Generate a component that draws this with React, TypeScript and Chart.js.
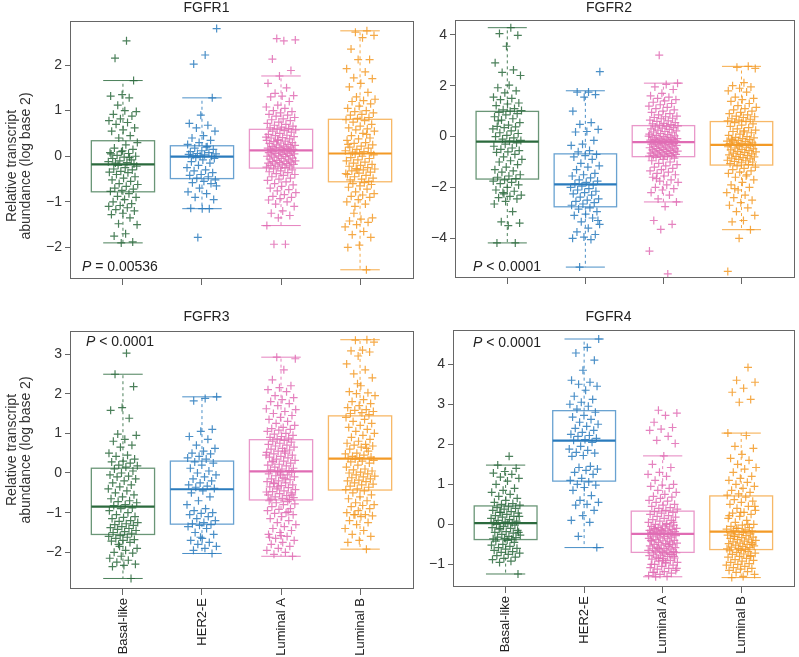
import React, { useEffect, useRef } from "react";
import { Chart, registerables } from "chart.js";

Chart.register(...registerables);
Chart.defaults.font.family = '"Liberation Sans", Arial, Helvetica, sans-serif';

// ---------- data ----------
const GROUPS = ["Basal-like", "HER2-E", "Luminal A", "Luminal B"];
const CAT_POS = [1, 2, 3, 4];
const COLORS = ["#2b6a3d", "#2a7bbd", "#e06cb4", "#f39a26"];
const Y_TITLE = ["Relative transcript", "abundance (log base 2)"];

// FGFR1
const FGFR1_BASAL = [2.53, 2.15, 1.66, 1.35, 1.32, 1.28, 1.12, 0.98, 1.0, 0.92, 0.88, 0.82, 0.78, 0.74, 0.7, 0.62, 0.58, 0.55, 0.45, 0.4,
  0.3, 0.25, 0.18, 0.15, 0.1, 0.08, 0.06, 0.02, 0.0, -0.02, -0.05, -0.08, -0.1, -0.12, -0.14, -0.15, -0.17, 0.12, 0.05, -0.03,
  -0.2, -0.22, -0.25, -0.28, -0.3, -0.33, -0.35, -0.36, -0.4, -0.45, -0.48, -0.52, -0.55, -0.6, -0.62, -0.66, -0.7, -0.72, -0.75, -0.77,
  -0.82, -0.88, -0.9, -0.95, -1.0, -1.04, -1.08, -1.1, -1.13, -1.17, -1.2, -1.25, -1.28, -1.35, -1.48, -1.5, -1.7, -1.75, -1.88, -1.9];
const FGFR1_HER2E = [2.8, 2.22, 2.02, 1.28, 0.9, 0.72, 0.68, 0.62, 0.55, 0.45, 0.4, 0.35, 0.3, 0.26,
  0.2, 0.18, 0.15, 0.12, 0.1, 0.08, 0.06, 0.05, 0.03, 0.02, 0.0, 0.01, 0.04, 0.21,
  -0.03, -0.05, -0.08, -0.12, -0.15, -0.2, -0.25, -0.3, -0.32, -0.36, -0.4, -0.42, -0.45, -0.48,
  -0.52, -0.55, -0.58, -0.6, -0.7, -0.78, -0.82, -0.9, -0.95, -1.15, -1.14, -1.15, -1.78, -0.65];
const FGFR1_LUMA = [2.58, 2.55, 2.53, 2.13, 1.88, 1.76, 1.6, 1.5, 1.38, 1.33, 1.32, 1.3, 1.2, 1.12, 1.08, 1.05, 1.0, 0.98, 0.95, 0.92, 0.9, 0.88, 0.85, 0.82, 0.8, 0.78, 0.75, 0.72, 0.7, 0.68, 0.66, 0.64, 0.62, 0.61, 0.6,
  0.58, 0.56, 0.55, 0.53, 0.5, 0.48, 0.46, 0.45, 0.43, 0.41, 0.4, 0.38, 0.36, 0.35, 0.33, 0.32, 0.3, 0.29, 0.28, 0.26, 0.25, 0.24, 0.22, 0.21, 0.2, 0.19, 0.18, 0.17, 0.16, 0.15, 0.15, 0.14, 0.14, 0.35, 0.42,
  0.12, 0.11, 0.1, 0.09, 0.08, 0.07, 0.06, 0.05, 0.04, 0.03, 0.02, 0.01, 0.0, -0.01, -0.02, -0.04, -0.05, -0.06, -0.08, -0.09, -0.1, -0.11, -0.12, -0.13, -0.14, -0.15, -0.16, -0.17, -0.18, -0.19, -0.2, -0.21, -0.22, -0.24, -0.25,
  -0.28, -0.3, -0.32, -0.34, -0.36, -0.38, -0.4, -0.42, -0.45, -0.48, -0.5, -0.53, -0.56, -0.6, -0.63, -0.66, -0.7, -0.73, -0.76, -0.8, -0.84, -0.88, -0.9, -0.93, -0.96, -1.0, -1.05, -1.1, -1.2, -1.25, -1.3, -1.35, -1.52, -1.93, -1.93];
const FGFR1_LUMB = [2.75, 2.72, 2.65, 2.6, 2.35, 2.12, 2.12, 1.92, 1.85, 1.72, 1.7, 1.6, 1.52, 1.4, 1.3, 1.25, 1.22, 1.2, 1.15, 1.1, 1.05, 1.0, 0.98, 0.95, 0.92, 0.9, 0.85, 0.83,
  0.8, 0.78, 0.75, 0.7, 0.66, 0.62, 0.6, 0.58, 0.55, 0.5, 0.45, 0.4, 0.38, 0.35, 0.3, 0.28, 0.25, 0.22, 0.2, 0.18, 0.15, 0.12, 0.1, 0.09, 0.08, 0.07, 0.26, 0.48,
  0.05, 0.03, 0.0, -0.03, -0.05, -0.08, -0.1, -0.13, -0.15, -0.18, -0.2, -0.22, -0.25, -0.27, -0.28, -0.3, -0.32, -0.35, -0.37, -0.4, -0.42, -0.45, -0.48, -0.5, -0.52, -0.55, -0.3, -0.38,
  -0.58, -0.6, -0.62, -0.65, -0.68, -0.72, -0.78, -0.82, -0.85, -0.88, -0.9, -0.95, -1.0, -1.05, -1.25, -1.35, -1.38, -1.42, -1.45, -1.5, -1.55, -1.65, -1.72, -1.78, -1.95, -2.0, -2.49, -1.1];
// [whisker low, Q1, median, Q3, whisker high]
const FGFR1_BOX = [[-1.9, -0.78, -0.18, 0.34, 1.66], [-1.15, -0.49, -0.01, 0.23, 1.28], [-1.52, -0.26, 0.13, 0.59, 1.76], [-2.49, -0.56, 0.06, 0.81, 2.75]];
const FGFR1_RANGE = [-2.67, 2.97];
const FGFR1_TICKS = [-2, -1, 0, 1, 2];

// FGFR2
const FGFR2_BASAL = [4.28, 4.05, 3.98, 3.55, 2.9, 2.62, 2.52, 2.4, 2.02, 1.92, 1.8, 1.72, 1.55, 1.5, 1.45, 1.32, 1.28, 1.22, 1.1, 1.05, 1.02, 1.0,
  0.95, 0.9, 0.85, 0.78, 0.7, 0.65, 0.55, 0.45, 0.4, 0.38, 0.35, 0.3, 0.22, 0.15, 0.12, 0.05, 0.0, -0.05, -0.1, -0.15, -0.18, 0.62,
  -0.25, -0.3, -0.38, -0.45, -0.5, -0.55, -0.6, -0.62, -0.7, -0.8, -0.9, -0.95, -1.0, -1.1, -1.2, -1.3, -1.35, -1.4, -1.5, -1.55, -1.6, -1.65,
  -1.7, -1.75, -1.8, -1.85, -1.9, -2.0, -2.1, -2.15, -2.2, -2.3, -2.35, -2.4, -2.45, -2.55, -2.65, -2.95, -3.35, -3.4, -3.5, -4.18, -4.18, -2.25];
const FGFR2_HER2E = [2.55, 1.75, 1.75, 1.65, 1.55, 1.0, 0.55, 0.48, 0.28, 0.2, 0.18, -0.15, -0.3, -0.35, -0.55, -0.6,
  -0.7, -0.75, -0.8, -0.9, -1.05, -1.15, -1.2, -1.3, -1.45, -1.5, -1.55, -1.62, -1.7, -1.75, -1.8, -1.85,
  -1.9, -1.95, -2.0, -2.05, -2.1, -2.15, -2.2, -2.25, -2.3, -2.38, -2.45, -2.5, -2.55, -2.6, -2.65, -2.7,
  -2.8, -2.85, -2.95, -3.05, -3.1, -3.2, -3.35, -3.45, -3.6, -3.75, -3.85, -3.95, -4.0, -4.05, -5.13, -3.3];
const FGFR2_LUMA = [3.2, 2.1, 2.05, 1.95, 1.85, 1.7, 1.6, 1.55, 1.5, 1.45, 1.4, 1.35, 1.3, 1.25, 1.2, 1.15, 1.1, 1.05, 1.0, 0.95, 0.9, 0.85, 0.8, 0.78, 0.75, 0.72, 0.7, 0.65, 0.62, 0.6, 0.55, 0.52, 0.5, 0.47, 0.45,
  0.42, 0.4, 0.38, 0.35, 0.33, 0.3, 0.28, 0.25, 0.22, 0.2, 0.18, 0.15, 0.12, 0.1, 0.08, 0.05, 0.03, 0.0, -0.02, -0.04, -0.06, -0.08, -0.1, -0.11, -0.12, -0.13, -0.14, -0.15, -0.16, -0.17, -0.18, -0.19, -0.2, -0.21, 0.02,
  -0.23, -0.25, -0.27, -0.28, -0.3, -0.32, -0.33, -0.35, -0.37, -0.38, -0.4, -0.42, -0.44, -0.45, -0.47, -0.48, -0.5, -0.52, -0.54, -0.55, -0.57, -0.58, -0.6, -0.62, -0.64, -0.65, -0.67, -0.69, -0.7, -0.72, -0.74, -0.75, -0.76, -0.77, -0.78,
  -0.82, -0.85, -0.9, -0.95, -1.0, -1.05, -1.1, -1.15, -1.2, -1.25, -1.3, -1.35, -1.4, -1.45, -1.5, -1.55, -1.6, -1.7, -1.75, -1.8, -1.9, -2.0, -2.05, -2.1, -2.2, -2.3, -2.45, -2.57, -2.75, -3.3, -3.45, -3.65, -4.5, -5.4, -1.65];
const FGFR2_LUMB = [2.76, 2.72, 2.68, 2.12, 2.0, 1.95, 1.9, 1.8, 1.75, 1.55, 1.5, 1.45, 1.38, 1.3, 1.22, 1.15, 1.1, 1.05, 1.0, 0.95, 0.9, 0.85, 0.8, 0.78, 0.75, 0.7, 0.68, 0.65, 0.62, 0.6,
  0.55, 0.5, 0.45, 0.4, 0.35, 0.3, 0.25, 0.22, 0.2, 0.15, 0.1, 0.05, 0.0, -0.03, -0.05, -0.08, -0.1, -0.12, -0.15, -0.18, -0.2, -0.22, -0.25, -0.27, -0.28, -0.3, -0.31, -0.32, 0.18, -0.14,
  -0.35, -0.38, -0.4, -0.42, -0.45, -0.48, -0.5, -0.52, -0.55, -0.58, -0.6, -0.62, -0.65, -0.68, -0.7, -0.72, -0.75, -0.78, -0.8, -0.83, -0.85, -0.88, -0.9, -0.93, -0.95, -0.98, -1.0, -1.03, -1.06, -1.1,
  -1.15, -1.2, -1.25, -1.3, -1.35, -1.4, -1.45, -1.5, -1.6, -1.7, -1.8, -1.9, -2.0, -2.1, -2.2, -2.3, -2.4, -2.5, -2.6, -2.7, -2.8, -2.95, -3.1, -3.3, -3.35, -3.66, -4.0, -5.3, -1.55, -2.05];
const FGFR2_BOX = [[-4.18, -1.67, -0.2, 0.99, 4.28], [-5.13, -2.76, -1.88, -0.68, 1.8], [-2.57, -0.79, -0.22, 0.43, 2.1], [-3.66, -1.12, -0.33, 0.59, 2.76]];
const FGFR2_RANGE = [-5.52, 4.59];
const FGFR2_TICKS = [-4, -2, 0, 2, 4];

// FGFR3
const FGFR3_BASAL = [3.02, 2.49, 2.18, 1.65, 1.58, 1.38, 0.98, 0.95, 0.85, 0.8, 0.7, 0.65, 0.5, 0.45, 0.42, 0.35, 0.3, 0.28, 0.25, 0.2, 0.18, 0.15,
  0.1, 0.05, 0.0, -0.05, -0.08, -0.1, -0.15, -0.2, -0.25, -0.3, -0.35, -0.4, -0.45, -0.5, -0.55, -0.6, -0.65, -0.7, -0.72, -0.75, -0.8, -0.82,
  -0.88, -0.9, -0.95, -1.0, -1.05, -1.1, -1.12, -1.15, -1.2, -1.22, -1.25, -1.28, -1.3, -1.32, -1.35, -1.38, -1.4, -1.42, -1.45, -1.48, -1.5, -1.52,
  -1.58, -1.6, -1.62, -1.65, -1.68, -1.7, -1.72, -1.75, -1.8, -1.9, -1.95, -2.0, -2.02, -2.1, -2.15, -2.2, -2.25, -2.3, -2.33, -2.36, -2.66, -1.85];
const FGFR3_HER2E = [1.92, 1.88, 1.82, 1.1, 1.05, 0.92, 0.85, 0.7, 0.62, 0.55, 0.5, 0.48, 0.42, 0.38, 0.35,
  0.28, 0.25, 0.2, 0.12, 0.05, 0.0, -0.05, -0.1, -0.15, -0.2, -0.25, -0.3, -0.33, -0.36, -0.39,
  -0.45, -0.5, -0.6, -0.7, -0.8, -0.9, -0.95, -1.0, -1.02, -1.05, -1.1, -1.15, -1.2, -1.25, -1.28,
  -1.3, -1.32, -1.35, -1.4, -1.5, -1.55, -1.65, -1.7, -1.75, -1.8, -1.85, -1.9, -1.95, -2.03, -1.62];
const FGFR3_LUMA = [2.92, 2.88, 2.6, 2.35, 2.2, 2.15, 2.1, 2.05, 1.95, 1.9, 1.85, 1.8, 1.75, 1.7, 1.62, 1.55, 1.5, 1.45, 1.4, 1.35, 1.3, 1.25, 1.2, 1.15, 1.12, 1.1, 1.08, 1.05, 1.0, 0.98, 0.95, 0.92, 0.9, 0.88, 0.86, 1.6,
  0.82, 0.8, 0.78, 0.75, 0.72, 0.7, 0.68, 0.65, 0.62, 0.6, 0.58, 0.55, 0.52, 0.5, 0.48, 0.45, 0.42, 0.4, 0.38, 0.35, 0.32, 0.3, 0.28, 0.25, 0.22, 0.2, 0.18, 0.15, 0.12, 0.1, 0.08, 0.06, 0.05, 0.45, 0.55, 0.3,
  0.02, 0.0, -0.02, -0.05, -0.07, -0.1, -0.12, -0.15, -0.17, -0.2, -0.22, -0.25, -0.27, -0.3, -0.32, -0.35, -0.37, -0.4, -0.42, -0.45, -0.47, -0.5, -0.52, -0.55, -0.57, -0.6, -0.62, -0.64, -0.66, -0.67, -0.35, -0.48, -0.15, -0.25, -0.55, -0.05,
  -0.7, -0.72, -0.75, -0.78, -0.8, -0.85, -0.9, -0.92, -0.95, -1.0, -1.02, -1.05, -1.1, -1.15, -1.2, -1.25, -1.3, -1.35, -1.4, -1.45, -1.5, -1.55, -1.6, -1.65, -1.7, -1.75, -1.8, -1.85, -1.9, -1.95, -2.0, -2.05, -2.1, -1.58, -1.62, -0.98];
const FGFR3_LUMB = [3.36, 3.35, 3.3, 3.1, 3.08, 3.05, 2.95, 2.75, 2.6, 2.5, 2.4, 2.2, 2.05, 2.02, 2.0, 1.95, 1.85, 1.8, 1.75, 1.7, 1.65, 1.6, 1.58, 1.55, 1.52, 1.5, 1.47, 2.25,
  1.4, 1.35, 1.3, 1.25, 1.2, 1.15, 1.1, 1.05, 1.0, 0.95, 0.9, 0.85, 0.8, 0.75, 0.72, 0.7, 0.68, 0.65, 0.6, 0.55, 0.5, 0.48, 0.45, 0.42, 0.4, 0.38, 0.37, 0.62,
  0.35, 0.32, 0.3, 0.28, 0.25, 0.2, 0.15, 0.1, 0.08, 0.05, 0.02, 0.0, -0.02, -0.05, -0.08, -0.1, -0.12, -0.15, -0.18, -0.2, -0.22, -0.25, -0.28, -0.3, -0.33, -0.36, -0.4, -0.42,
  -0.45, -0.5, -0.55, -0.6, -0.65, -0.7, -0.75, -0.8, -0.82, -0.85, -0.9, -0.95, -1.0, -1.05, -1.05, -1.08, -1.1, -1.2, -1.25, -1.3, -1.4, -1.45, -1.55, -1.6, -1.7, -1.75, -1.92, -1.05];
const FGFR3_BOX = [[-2.66, -1.55, -0.85, 0.12, 2.49], [-2.03, -1.29, -0.41, 0.3, 1.92], [-2.1, -0.68, 0.04, 0.84, 2.92], [-1.92, -0.43, 0.36, 1.44, 3.36]];
const FGFR3_RANGE = [-2.9, 3.57];
const FGFR3_TICKS = [-2, -1, 0, 1, 2, 3];

// FGFR4
const FGFR4_BASAL = [1.7, 1.48, 1.4, 1.32, 1.28, 1.25, 1.18, 1.15, 1.08, 1.0, 0.9, 0.85, 0.8, 0.75, 0.7, 0.65, 0.6, 0.55, 0.52, 0.5, 0.48,
  0.44, 0.42, 0.4, 0.38, 0.35, 0.32, 0.3, 0.28, 0.25, 0.22, 0.2, 0.18, 0.15, 0.12, 0.1, 0.08, 0.06, 0.05, 0.04, 0.3, 0.2,
  0.02, 0.0, -0.02, -0.05, -0.08, -0.1, -0.12, -0.15, -0.18, -0.2, -0.22, -0.25, -0.27, -0.3, -0.32, -0.33, -0.35, -0.36, -0.37, -0.1, -0.2,
  -0.4, -0.42, -0.45, -0.5, -0.52, -0.55, -0.58, -0.6, -0.62, -0.65, -0.68, -0.7, -0.72, -0.75, -0.78, -0.82, -0.85, -0.88, -0.92, -0.95, -1.24];
const FGFR4_HER2E = [4.63, 4.42, 4.28, 4.1, 3.85, 3.6, 3.55, 3.5, 3.45, 3.35, 3.2, 3.12, 3.05, 3.0, 2.95, 2.88,
  2.8, 2.72, 2.68, 2.62, 2.55, 2.5, 2.45, 2.4, 2.35, 2.3, 2.25, 2.22, 2.2, 2.15, 2.12, 2.1,
  2.05, 1.95, 1.88, 1.85, 1.8, 1.78, 1.72, 1.7, 1.45, 1.42, 1.38, 1.35, 1.3, 1.25, 1.15, 1.1,
  1.06, 1.0, 0.98, 0.92, 0.85, 0.72, 0.6, 0.55, 0.5, 0.48, 0.35, 0.22, 0.1, 0.05, -0.3, -0.58];
const FGFR4_LUMA = [2.85, 2.78, 2.72, 2.55, 2.42, 2.38, 2.35, 2.2, 2.1, 2.02, 1.71, 1.5, 1.42, 1.3, 1.25, 1.2, 1.1, 1.0, 0.98, 0.95, 0.9, 0.85, 0.8, 0.75, 0.7, 0.68, 0.65, 0.6, 0.58, 0.55, 0.5, 0.48, 0.45, 0.42, 0.4, 0.38, 0.35,
  0.32, 0.3, 0.28, 0.25, 0.22, 0.2, 0.18, 0.15, 0.12, 0.1, 0.08, 0.05, 0.02, 0.0, -0.02, -0.04, -0.05, -0.06, -0.08, -0.1, -0.11, -0.12, -0.13, -0.14, -0.15, -0.16, -0.17, -0.18, -0.19, -0.2, -0.21, -0.22, -0.23, 0.0, -0.1, 0.05, -0.15,
  -0.25, -0.26, -0.27, -0.28, -0.3, -0.31, -0.32, -0.34, -0.35, -0.36, -0.38, -0.4, -0.41, -0.42, -0.44, -0.45, -0.47, -0.48, -0.5, -0.51, -0.52, -0.54, -0.55, -0.57, -0.58, -0.6, -0.61, -0.62, -0.64, -0.65, -0.66, -0.67, -0.68, -0.69, -0.4, -0.5, -0.6,
  -0.71, -0.72, -0.74, -0.75, -0.77, -0.78, -0.8, -0.82, -0.84, -0.85, -0.87, -0.9, -0.92, -0.95, -0.97, -1.0, -1.02, -1.05, -1.08, -1.1, -1.12, -1.15, -1.18, -1.2, -1.22, -1.25, -1.28, -1.3, -1.31, -0.8, -0.9, -1.0, -0.75, -0.85, -1.1, -0.95, -1.2];
const FGFR4_LUMB = [3.92, 3.6, 3.55, 3.4, 3.3, 3.12, 3.05, 2.28, 2.22, 1.95, 1.9, 1.75, 1.65, 1.6, 1.5, 1.42, 1.38, 1.3, 1.2, 1.15, 1.1, 1.05, 1.0, 0.95, 0.9, 0.85, 0.8, 0.76, 0.73,
  0.68, 0.62, 0.58, 0.55, 0.5, 0.45, 0.4, 0.35, 0.3, 0.28, 0.25, 0.2, 0.15, 0.1, 0.05, 0.0, -0.02, -0.05, -0.08, -0.1, -0.12, -0.14, -0.16, -0.17, 0.3, 0.22, 0.0, -0.1, 0.45,
  -0.2, -0.22, -0.24, -0.25, -0.27, -0.28, -0.3, -0.32, -0.33, -0.35, -0.37, -0.38, -0.4, -0.42, -0.44, -0.45, -0.47, -0.48, -0.5, -0.52, -0.54, -0.55, -0.57, -0.58, -0.6, -0.61, -0.62, -0.3, -0.5,
  -0.65, -0.66, -0.68, -0.7, -0.72, -0.74, -0.75, -0.78, -0.8, -0.82, -0.85, -0.88, -0.9, -0.92, -0.95, -0.98, -1.0, -1.02, -1.05, -1.08, -1.1, -1.12, -1.15, -1.18, -1.2, -1.25, -1.3, -1.33, -0.8];
const FGFR4_BOX = [[-1.24, -0.38, 0.03, 0.46, 1.48], [-0.58, 1.08, 2.09, 2.84, 4.63], [-1.31, -0.7, -0.24, 0.33, 1.71], [-1.33, -0.63, -0.18, 0.71, 2.28]];
const FGFR4_RANGE = [-1.54, 4.86];
const FGFR4_TICKS = [-1, 0, 1, 2, 3, 4];

// ---------- panels ----------
type PanelCfg = {
  title: string;
  groups: number[][];
  box: number[][];
  range: number[];
  ticks: number[];
  pRel: string;
  // layout
  left: number; top: number; w: number; h: number;
  yAxisW: number; xAxisH: number; padRight: number; titlePadBottom: number;
  showX: boolean; pAtTop: boolean; pDx: number; pDy: number;
  yTitle: null | { x: number; y: number };
};

const PANELS: PanelCfg[] = [
  { title: "FGFR1", groups: [FGFR1_BASAL, FGFR1_HER2E, FGFR1_LUMA, FGFR1_LUMB], box: FGFR1_BOX, range: FGFR1_RANGE, ticks: FGFR1_TICKS, pRel: "= 0.00536",
    left: 0, top: 0, w: 420, h: 300, yAxisW: 70, xAxisH: 22, padRight: 7, titlePadBottom: 5.4, showX: false, pAtTop: false, pDx: 12, pDy: -11, yTitle: { x: 12, y: 166 } },
  { title: "FGFR2", groups: [FGFR2_BASAL, FGFR2_HER2E, FGFR2_LUMA, FGFR2_LUMB], box: FGFR2_BOX, range: FGFR2_RANGE, ticks: FGFR2_TICKS, pRel: "< 0.0001",
    left: 420, top: 0, w: 379, h: 300, yAxisW: 35, xAxisH: 23, padRight: 1, titlePadBottom: 4.4, showX: false, pAtTop: false, pDx: 18, pDy: -10, yTitle: null },
  { title: "FGFR3", groups: [FGFR3_BASAL, FGFR3_HER2E, FGFR3_LUMA, FGFR3_LUMB], box: FGFR3_BOX, range: FGFR3_RANGE, ticks: FGFR3_TICKS, pRel: "< 0.0001",
    left: 0, top: 309, w: 420, h: 348, yAxisW: 70, xAxisH: 69, padRight: 7, titlePadBottom: 7, showX: true, pAtTop: true, pDx: 16, pDy: 11, yTitle: { x: 12, y: 141 } },
  { title: "FGFR4", groups: [FGFR4_BASAL, FGFR4_HER2E, FGFR4_LUMA, FGFR4_LUMB], box: FGFR4_BOX, range: FGFR4_RANGE, ticks: FGFR4_TICKS, pRel: "< 0.0001",
    left: 420, top: 309, w: 379, h: 348, yAxisW: 33, xAxisH: 71, padRight: 2, titlePadBottom: 5.4, showX: true, pAtTop: true, pDx: 20, pDy: 13, yTitle: null },
];

const BOX_HALF = 0.4;
const CAP_HALF = 0.25;
const JITTER = 0.38;

function hexA(hex: string, a: number) {
  const n = parseInt(hex.slice(1), 16);
  return `rgba(${(n >> 16) & 255},${(n >> 8) & 255},${n & 255},${a})`;
}
function fmt(v: number) {
  return v < 0 ? "\u2212" + Math.abs(v) : String(v);
}
function jitter(i: number, g: number) {
  const f = ((i + 1) * 0.6180339887 + g * 0.37) % 1;
  return (f - 0.5) * JITTER;
}

function makePlugin(cfg: PanelCfg) {
  return {
    id: "boxesAndText",
    afterDatasetsDraw(chart: any) {
      const { ctx } = chart;
      const x = chart.scales.x, y = chart.scales.y;
      cfg.box.forEach((s, g) => {
        const [lo, q1, med, q3, hi] = s;
        const c = COLORS[g];
        const cx = x.getPixelForValue(CAT_POS[g]);
        const bh = x.getPixelForValue(CAT_POS[g] + BOX_HALF) - cx;
        const ch = x.getPixelForValue(CAT_POS[g] + CAP_HALF) - cx;
        const yLo = y.getPixelForValue(lo), yQ1 = y.getPixelForValue(q1), yMed = y.getPixelForValue(med);
        const yQ3 = y.getPixelForValue(q3), yHi = y.getPixelForValue(hi);
        ctx.save();
        ctx.strokeStyle = hexA(c, 0.85);
        ctx.lineWidth = 1;
        ctx.setLineDash([3, 3]);
        ctx.beginPath();
        ctx.moveTo(cx, yQ3); ctx.lineTo(cx, yHi);
        ctx.moveTo(cx, yQ1); ctx.lineTo(cx, yLo);
        ctx.stroke();
        ctx.setLineDash([]);
        ctx.beginPath();
        ctx.moveTo(cx - ch, yHi); ctx.lineTo(cx + ch, yHi);
        ctx.moveTo(cx - ch, yLo); ctx.lineTo(cx + ch, yLo);
        ctx.stroke();
        ctx.strokeStyle = hexA(c, 0.7);
        ctx.lineWidth = 1.3;
        ctx.strokeRect(cx - bh, yQ3, 2 * bh, yQ1 - yQ3);
        ctx.strokeStyle = c;
        ctx.lineWidth = 2.2;
        ctx.beginPath();
        ctx.moveTo(cx - bh, yMed); ctx.lineTo(cx + bh, yMed);
        ctx.stroke();
        ctx.restore();
      });
    },
    afterDraw(chart: any) {
      const { ctx, chartArea: a } = chart;
      ctx.save();
      ctx.strokeStyle = "#666";
      ctx.lineWidth = 1;
      ctx.strokeRect(Math.round(a.left) + 0.5, Math.round(a.top) + 0.5, Math.round(a.right - a.left), Math.round(a.bottom - a.top));
      const px = a.left + cfg.pDx;
      const py = (cfg.pAtTop ? a.top : a.bottom) + cfg.pDy;
      ctx.fillStyle = "#222";
      ctx.textBaseline = "middle";
      ctx.textAlign = "left";
      ctx.font = 'italic 14px "Liberation Sans", Arial, sans-serif';
      ctx.fillText("P", px, py);
      const pw = ctx.measureText("P").width;
      ctx.font = '14px "Liberation Sans", Arial, sans-serif';
      ctx.fillText(" " + cfg.pRel, px + pw, py);
      if (cfg.yTitle) {
        ctx.translate(cfg.yTitle.x, cfg.yTitle.y);
        ctx.rotate(-Math.PI / 2);
        ctx.textAlign = "center";
        ctx.font = '14px "Liberation Sans", Arial, sans-serif';
        ctx.fillStyle = "#333";
        Y_TITLE.forEach((t, i) => ctx.fillText(t, 0, i * 14.5));
      }
      ctx.restore();
    },
  };
}

function Panel({ cfg }: { cfg: PanelCfg }) {
  const ref = useRef<HTMLCanvasElement>(null);
  useEffect(() => {
    if (!ref.current) return;
    const datasets = cfg.groups.map((vals, g) => ({
      label: GROUPS[g],
      data: vals.map((v, i) => ({ x: CAT_POS[g] + jitter(i, g), y: v })),
      pointStyle: "cross",
      pointRadius: 4,
      borderWidth: 1.2,
      borderColor: hexA(COLORS[g], 0.85),
      backgroundColor: hexA(COLORS[g], 0.85),
    }));
    const chart = new Chart(ref.current, {
      type: "scatter",
      data: { datasets } as any,
      plugins: [makePlugin(cfg)],
      options: {
        animation: false,
        responsive: false,
        devicePixelRatio: 1,
        events: [],
        layout: { padding: { left: 0, right: cfg.padRight, top: 0, bottom: 0 } },
        plugins: {
          legend: { display: false },
          tooltip: { enabled: false },
          title: {
            display: true,
            text: cfg.title,
            color: "#222",
            font: { size: 14, weight: "normal" as any, lineHeight: 1.1 },
            padding: { top: 0, bottom: cfg.titlePadBottom },
          },
        },
        scales: {
          x: {
            type: "linear",
            min: 0.33,
            max: 4.67,
            afterBuildTicks: (s: any) => { s.ticks = CAT_POS.map((v) => ({ value: v })); },
            afterFit: (s: any) => { s.height = cfg.xAxisH; },
            grid: { drawOnChartArea: false, drawTicks: true, tickLength: 7, color: "#666" },
            border: { display: false },
            ticks: {
              autoSkip: false,
              minRotation: 90,
              maxRotation: 90,
              padding: 3,
              color: "#222",
              font: { size: 13 },
              callback: (v: any) => (cfg.showX ? GROUPS[CAT_POS.indexOf(Number(v))] : ""),
            },
          },
          y: {
            type: "linear",
            min: cfg.range[0],
            max: cfg.range[1],
            afterBuildTicks: (s: any) => { s.ticks = cfg.ticks.map((v) => ({ value: v })); },
            afterFit: (s: any) => { s.width = cfg.yAxisW; },
            grid: { drawOnChartArea: false, drawTicks: true, tickLength: 5, color: "#666" },
            border: { display: false },
            ticks: { padding: 3, color: "#333", font: { size: 14 }, callback: (v: any) => fmt(Number(v)) },
          },
        },
      } as any,
    });
    return () => chart.destroy();
  }, [cfg]);
  return (
    <canvas
      ref={ref}
      width={cfg.w}
      height={cfg.h}
      style={{ position: "absolute", left: cfg.left, top: cfg.top, width: cfg.w, height: cfg.h }}
    />
  );
}

export default function App() {
  return (
    <div style={{ position: "absolute", left: 0, top: 0, width: 799, height: 657, background: "#fff" }}>
      {PANELS.map((p) => (
        <Panel key={p.title} cfg={p} />
      ))}
    </div>
  );
}
